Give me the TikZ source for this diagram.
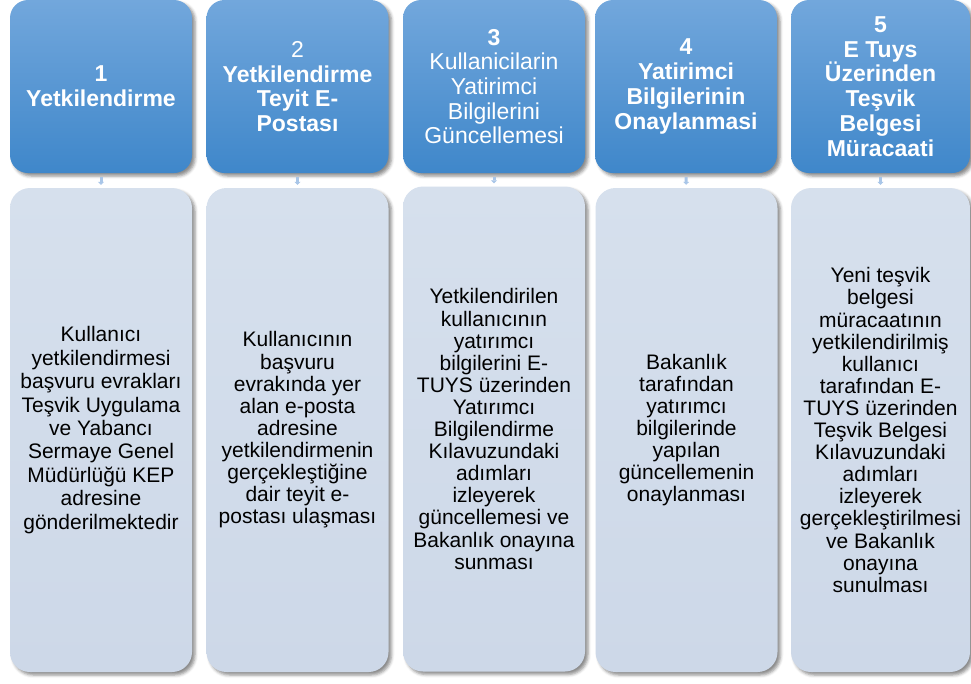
\documentclass[tikz,border=0pt]{standalone}
\usepackage{fontspec}
\setmainfont{Liberation Sans}
\usetikzlibrary{arrows.meta,shadows.blur}

\definecolor{headtop}{HTML}{72A7DC}
\definecolor{headbot}{HTML}{3F87CA}
\definecolor{stepfill}{HTML}{CDD8E8}
\definecolor{steptop}{HTML}{D6E0ED}
\definecolor{linkblue}{HTML}{A9C6E8}

\newcommand{\headfont}{\fontsize{23}{24.7}\selectfont}
\newcommand{\stepfont}{\fontsize{21}{22.1}\selectfont}

\tikzset{
  head/.style={rounded corners=18pt, top color=headtop, bottom color=headbot,
    minimum width=182pt, minimum height=173pt, inner sep=0pt, align=center,
    text=white, font=\headfont\bfseries,
    blur shadow={shadow xshift=3pt, shadow yshift=-3pt, shadow blur radius=3pt, shadow opacity=45}},
  stepbox/.style={rounded corners=20pt, top color=steptop, bottom color=stepfill,
    minimum width=182pt, minimum height=484pt, inner sep=0pt, align=center,
    text=black, font=\stepfont,
    blur shadow={shadow xshift=3pt, shadow yshift=-3pt, shadow blur radius=3pt, shadow opacity=45}},
  link/.style={linkblue, line width=3pt, shorten <=4pt, shorten >=3pt,
    -{Triangle[length=3pt,width=6pt]}}
}

\begin{document}
\begin{tikzpicture}[x=1pt, y=-1pt]
\useasboundingbox (0,0) rectangle (971,683);

% headers
\node[head] (h1) at (101,86.5) {1\\Yetkilendirme};
\node[head] (h2) at (297.5,86.5) {\textmd{2}\\Yetkilendirme\\Teyit E-\\Postası};
\node[head, font=\headfont] (h3) at (494,86.5) {\textbf{3}\\Kullanicilarin\\Yatirimci\\Bilgilerini\\Güncellemesi};
\node[head] (h4) at (686,86.5) {4\\Yatirimci\\Bilgilerinin\\Onaylanmasi};
\node[head, minimum width=179pt] (h5) at (880.5,86.5) {5\\E Tuys\\Üzerinden\\Teşvik\\Belgesi\\Müracaati};

% bodies
\node[stepbox, font=\fontsize{21}{23.4}\selectfont] (b1) at (101,430) {Kullanıcı\\yetkilendirmesi\\başvuru evrakları\\Teşvik Uygulama\\ve Yabancı\\Sermaye Genel\\Müdürlüğü KEP\\adresine\\gönderilmektedir};
\node[stepbox] (b2) at (297.5,430) {Kullanıcının\\başvuru\\evrakında yer\\alan e-posta\\adresine\\yetkilendirmenin\\gerçekleştiğine\\dair teyit e-\\postası ulaşması};
\node[stepbox, minimum height=485pt] (b3) at (494,429) {Yetkilendirilen\\kullanıcının\\yatırımcı\\bilgilerini E-\\TUYS üzerinden\\Yatırımcı\\Bilgilendirme\\Kılavuzundaki\\adımları\\izleyerek\\güncellemesi ve\\Bakanlık onayına\\sunması};
\node[stepbox] (b4) at (686.5,430) {Bakanlık\\tarafından\\yatırımcı\\bilgilerinde\\yapılan\\güncellemenin\\onaylanması};
\node[stepbox, minimum width=179pt] (b5) at (880.5,430) {Yeni teşvik\\belgesi\\müracaatının\\yetkilendirilmiş\\kullanıcı\\tarafından E-\\TUYS üzerinden\\Teşvik Belgesi\\Kılavuzundaki\\adımları\\izleyerek\\gerçekleştirilmesi\\ve Bakanlık\\onayına\\sunulması};

\foreach \i in {1,...,5}
  \draw[link] (h\i) -- (b\i);
\end{tikzpicture}
\end{document}
